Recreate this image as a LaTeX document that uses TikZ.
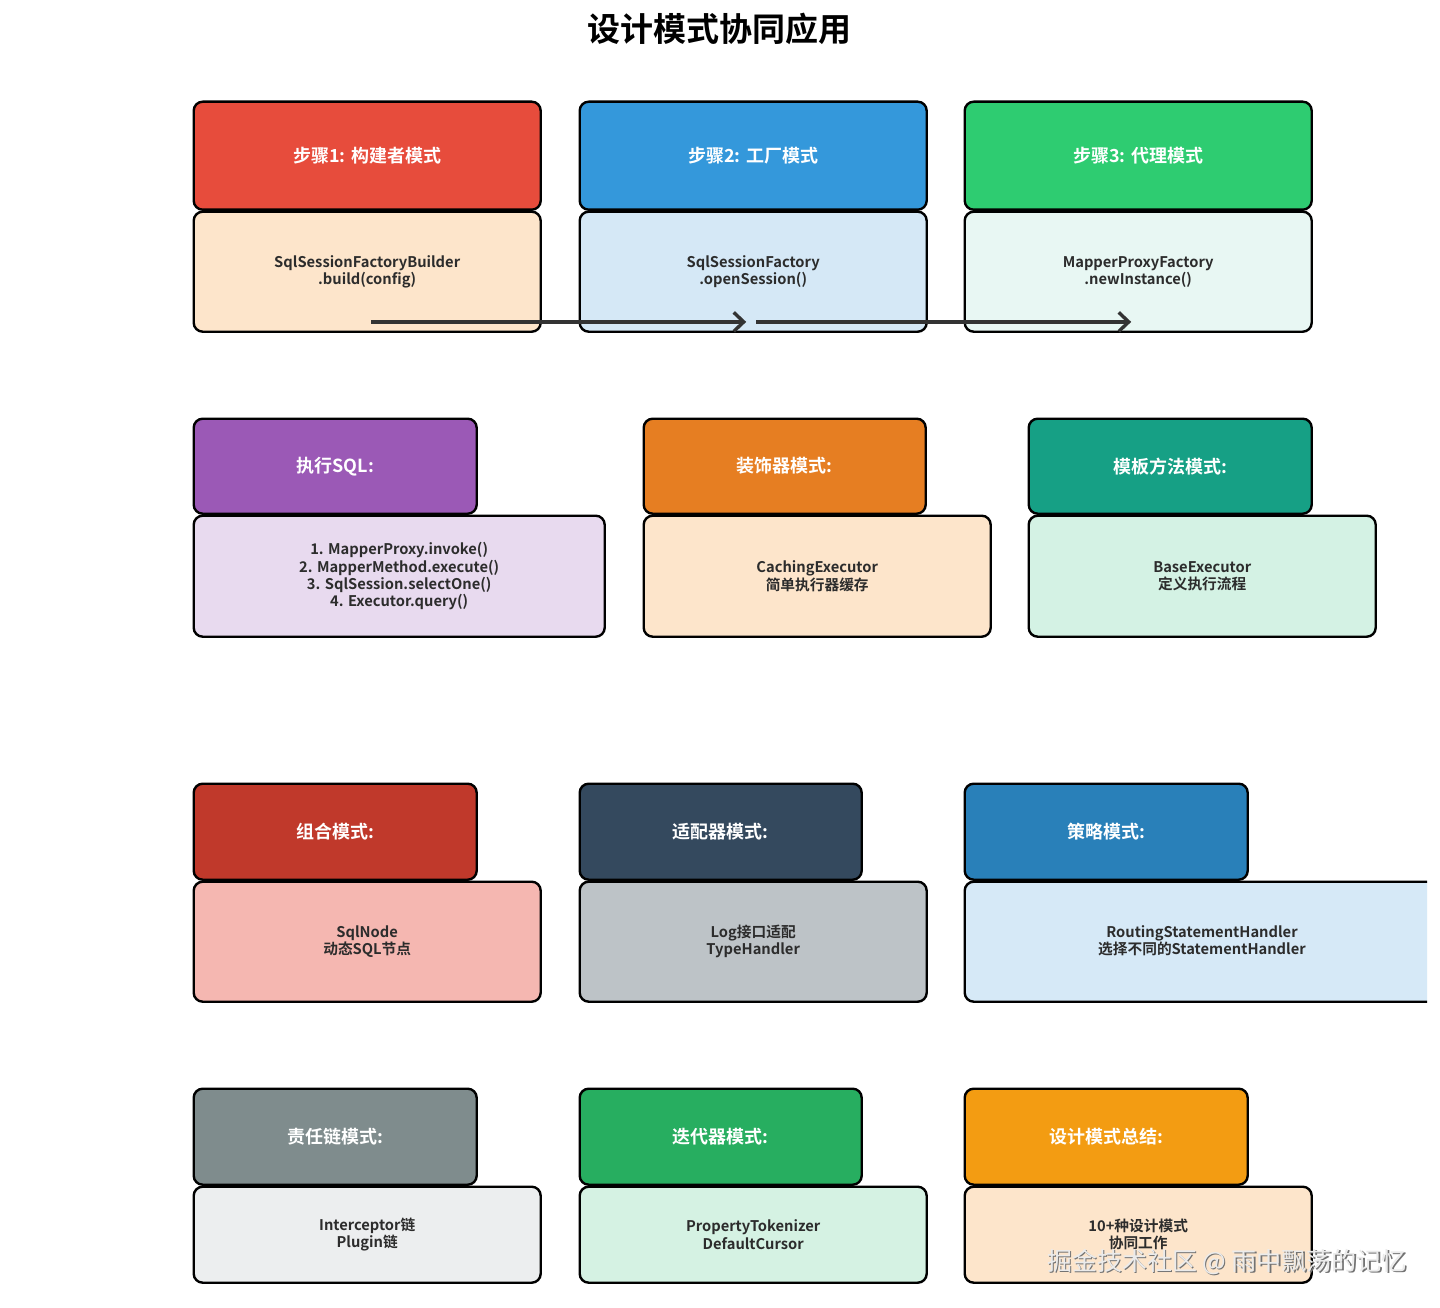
\documentclass[tikz,border=0pt]{standalone}
\usepackage{fontspec}
\setmainfont{Noto Sans CJK SC}[BoldFont=* Bold]
\usetikzlibrary{arrows.meta,calc}
\definecolor{txt}{HTML}{2C2C2C}
\definecolor{arr}{HTML}{333333}
\definecolor{h1c}{HTML}{E74C3C}\definecolor{b1c}{HTML}{FDE5CB}
\definecolor{h2c}{HTML}{3498DB}\definecolor{b2c}{HTML}{D5E8F6}
\definecolor{h3c}{HTML}{2ECC71}\definecolor{b3c}{HTML}{E8F7F3}
\definecolor{h4c}{HTML}{9B59B6}\definecolor{b4c}{HTML}{E8DAEF}
\definecolor{h5c}{HTML}{E67E22}\definecolor{b5c}{HTML}{FDE5CB}
\definecolor{h6c}{HTML}{16A085}\definecolor{b6c}{HTML}{D4F2E4}
\definecolor{h7c}{HTML}{C0392B}\definecolor{b7c}{HTML}{F5B7B1}
\definecolor{h8c}{HTML}{34495E}\definecolor{b8c}{HTML}{BDC3C7}
\definecolor{h9c}{HTML}{2980B9}\definecolor{b9c}{HTML}{D6E9F7}
\definecolor{h10c}{HTML}{7F8C8D}\definecolor{b10c}{HTML}{ECEEEF}
\definecolor{h11c}{HTML}{27AE60}\definecolor{b11c}{HTML}{D5F2E3}
\definecolor{h12c}{HTML}{F39C12}\definecolor{b12c}{HTML}{FDE5CB}
\tikzset{
  box/.style={draw=black, line width=2.4pt, rounded corners=9pt, anchor=north west, inner sep=0pt, align=center},
  hdr/.style={box, text=white, font=\bfseries\fontsize{18}{21}\selectfont},
  bdy/.style={box, text=txt, font=\bfseries\fontsize{14.7}{17.2}\selectfont},
  flow/.style={draw=arr, line width=3.4pt, -{Straight Barb[length=10pt,width=19pt,line width=3.4pt]}},
  ttl/.style={font=\bfseries\fontsize{33}{38}\selectfont, text=black},
  wm/.style={font=\fontsize{25}{29}\selectfont},
}
\begin{document}
\begin{tikzpicture}[x=1pt,y=-1pt]
\useasboundingbox (0,0) rectangle (1440,1308);
\fill[white] (0,0) rectangle (1440,1308);
\node[ttl] (title) at (719,29) {设计模式协同应用};
% row 1
\node[hdr, fill=h1c, minimum width=347pt, minimum height=108pt] (h1) at (192.5,100.5) {步骤1: 构建者模式};
\node[bdy, fill=b1c, minimum width=347pt, minimum height=120pt] (b1) at (192.5,210.5) {SqlSessionFactoryBuilder\\.build(config)};
\node[hdr, fill=h2c, minimum width=347pt, minimum height=108pt] (h2) at (578.5,100.5) {步骤2: 工厂模式};
\node[bdy, fill=b2c, minimum width=347pt, minimum height=120pt] (b2) at (578.5,210.5) {SqlSessionFactory\\.openSession()};
\node[hdr, fill=h3c, minimum width=347pt, minimum height=108pt] (h3) at (963.5,100.5) {步骤3: 代理模式};
\node[bdy, fill=b3c, minimum width=347pt, minimum height=120pt] (b3) at (963.5,210.5) {MapperProxyFactory\\.newInstance()};
\draw[flow] ($(b1.south)+(4,-11)$) -- ($(b2.south)+(-7,-11)$);
\draw[flow] ($(b2.south)+(3,-11)$) -- ($(b3.south)+(-7,-11)$);
% row 2
\node[hdr, fill=h4c, minimum width=283pt, minimum height=95pt] (h4) at (192.5,417.5) {执行SQL:};
\node[bdy, fill=b4c, minimum width=411pt, minimum height=121pt] (b4) at (192.5,514.5) {1. MapperProxy.invoke()\\2. MapperMethod.execute()\\3. SqlSession.selectOne()\\4. Executor.query()};
\node[hdr, fill=h5c, minimum width=282pt, minimum height=95pt] (h5) at (642.5,417.5) {装饰器模式:};
\node[bdy, fill=b5c, minimum width=347pt, minimum height=121pt] (b5) at (642.5,514.5) {CachingExecutor\\简单执行器缓存};
\node[hdr, fill=h6c, minimum width=283pt, minimum height=95pt] (h6) at (1027.5,417.5) {模板方法模式:};
\node[bdy, fill=b6c, minimum width=347pt, minimum height=121pt] (b6) at (1027.5,514.5) {BaseExecutor\\定义执行流程};
% row 3
\node[hdr, fill=h7c, minimum width=283pt, minimum height=96pt] (h7) at (192.5,782.5) {组合模式:};
\node[bdy, fill=b7c, minimum width=347pt, minimum height=120pt] (b7) at (192.5,880.5) {SqlNode\\动态SQL节点};
\node[hdr, fill=h8c, minimum width=282pt, minimum height=96pt] (h8) at (578.5,782.5) {适配器模式:};
\node[bdy, fill=b8c, minimum width=347pt, minimum height=120pt] (b8) at (578.5,880.5) {Log接口适配\\TypeHandler};
\node[hdr, fill=h9c, minimum width=283pt, minimum height=96pt] (h9) at (963.5,782.5) {策略模式:};
\begin{scope}
\clip (0,0) rectangle (1427,1308);
\node[bdy, fill=b9c, minimum width=600pt, minimum height=120pt] (b9) at (963.5,880.5) {\phantom{x}};
\end{scope}
\node[bdy, draw=none, fill=none, anchor=center] (b9t) at (1202,941) {RoutingStatementHandler\\选择不同的StatementHandler};
% row 4
\node[hdr, fill=h10c, minimum width=283pt, minimum height=96pt] (h10) at (192.5,1087.5) {责任链模式:};
\node[bdy, fill=b10c, minimum width=347pt, minimum height=96pt] (b10) at (192.5,1185.5) {Interceptor链\\Plugin链};
\node[hdr, fill=h11c, minimum width=282pt, minimum height=96pt] (h11) at (578.5,1087.5) {迭代器模式:};
\node[bdy, fill=b11c, minimum width=347pt, minimum height=96pt] (b11) at (578.5,1185.5) {PropertyTokenizer\\DefaultCursor};
\node[hdr, fill=h12c, minimum width=283pt, minimum height=96pt] (h12) at (963.5,1087.5) {设计模式总结:};
\node[bdy, fill=b12c, minimum width=347pt, minimum height=96pt] (b12) at (963.5,1185.5) {10+种设计模式\\协同工作};
% watermark
\node[wm, text=black!55] (wmk) at (1228.2,1262.8) {掘金技术社区 @ 雨中飘荡的记忆};
\node[wm, text=white!92!black] (wm2) at (1227,1261.6) {掘金技术社区 @ 雨中飘荡的记忆};
\end{tikzpicture}
\end{document}
